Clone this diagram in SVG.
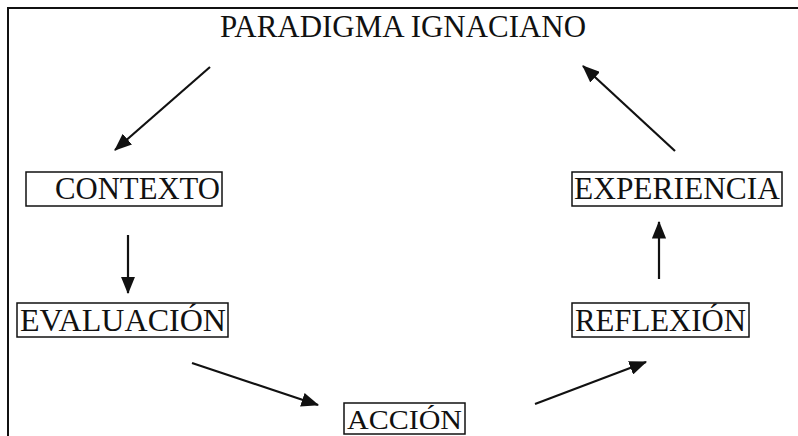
<svg xmlns="http://www.w3.org/2000/svg" width="798" height="436" viewBox="0 0 798 436">
<style>
.frame{fill:none;stroke:#111;stroke-width:2}
.box{fill:#fff;stroke:#111;stroke-width:1.5}
.lbl{font-family:"Liberation Serif","Times New Roman",serif;font-size:31px;fill:#111}
.title{font-family:"Liberation Serif","Times New Roman",serif;font-size:31px;fill:#111}
.conn{stroke:#111;stroke-width:2.2;fill:none;marker-end:url(#ah)}
</style>
<defs>
<marker id="ah" viewBox="0 0 16 13" refX="15" refY="6.5" markerWidth="8" markerHeight="6.5" markerUnits="strokeWidth" orient="auto">
<path d="M0,0 L16,6.5 L0,13 Z" fill="#111"/>
</marker>
</defs>
<rect width="798" height="436" fill="#fff"/>
<path class="frame" d="M8,436 L8,8 L798,8"/>
<g id="title"><text class="title" x="220" y="37" textLength="366" lengthAdjust="spacingAndGlyphs">PARADIGMA IGNACIANO</text></g>
<g id="contexto"><rect class="box" x="26" y="172" width="196" height="34"/><text class="lbl" x="55" y="199" textLength="165" lengthAdjust="spacingAndGlyphs">CONTEXTO</text></g>
<g id="experiencia"><rect class="box" x="572" y="172" width="210" height="34"/><text class="lbl" x="574" y="199" textLength="206" lengthAdjust="spacingAndGlyphs">EXPERIENCIA</text></g>
<g id="evaluacion"><rect class="box" x="17" y="303" width="211" height="34"/><text class="lbl" x="20" y="331" textLength="206" lengthAdjust="spacingAndGlyphs">EVALUACIÓN</text></g>
<g id="reflexion"><rect class="box" x="572" y="303" width="177" height="34"/><text class="lbl" x="575" y="331" textLength="171" lengthAdjust="spacingAndGlyphs">REFLEXIÓN</text></g>
<g id="accion"><rect class="box" x="344" y="403" width="121" height="31"/><text class="lbl" x="347" y="429" style="font-size:28px" textLength="115" lengthAdjust="spacingAndGlyphs">ACCIÓN</text></g>
<g id="connectors">
<line class="conn" x1="210" y1="67" x2="115" y2="150"/>
<line class="conn" x1="128" y1="235" x2="128" y2="293"/>
<line class="conn" x1="192" y1="363" x2="318" y2="405"/>
<line class="conn" x1="535" y1="404" x2="646" y2="362"/>
<line class="conn" x1="659" y1="279" x2="659" y2="222"/>
<line class="conn" x1="675" y1="151" x2="583" y2="66"/>
</g>
</svg>
